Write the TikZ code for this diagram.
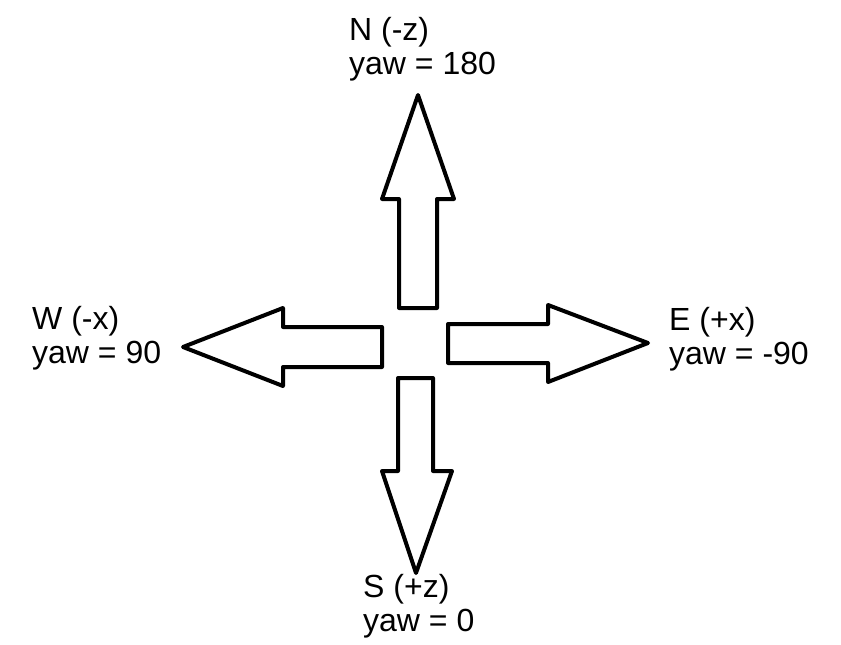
\documentclass[tikz,border=0pt]{standalone}
\usepackage{fontspec}
\setmainfont{Liberation Sans}
\begin{document}
\begin{tikzpicture}[x=1pt,y=-1pt,
  arrowshape/.style={draw=black,line width=4pt,line join=round,fill=white},
  lbl/.style={anchor=base west,inner sep=0pt,font=\fontsize{32}{34}\selectfont}]
\useasboundingbox (0,0) rectangle (841,645);
% North
\draw[arrowshape] (418,95) -- (454,199) -- (437,199) -- (437,308) -- (399,308) -- (399,199) -- (382,199) -- cycle;
% South
\draw[arrowshape] (416,573) -- (452,471) -- (433,471) -- (433,378) -- (398,378) -- (398,471) -- (382,471) -- cycle;
% West
\draw[arrowshape] (183,347) -- (283,308) -- (283,327) -- (382,327) -- (382,367) -- (283,367) -- (283,386) -- cycle;
% East
\draw[arrowshape] (648,343) -- (548,305) -- (548,324) -- (448,324) -- (448,363) -- (548,363) -- (548,382) -- cycle;
% Labels
\node[lbl] (n1) at (349,40) {N (-z)};
\node[lbl] (n2) at (349,74) {yaw = 180};
\node[lbl] (w1) at (32,329) {W (-x)};
\node[lbl] (w2) at (32,363) {yaw = 90};
\node[lbl] (e1) at (669,330) {E (+x)};
\node[lbl] (e2) at (669,364) {yaw = -90};
\node[lbl] (s1) at (363,597) {S (+z)};
\node[lbl] (s2) at (363,631) {yaw = 0};
\end{tikzpicture}
\end{document}
